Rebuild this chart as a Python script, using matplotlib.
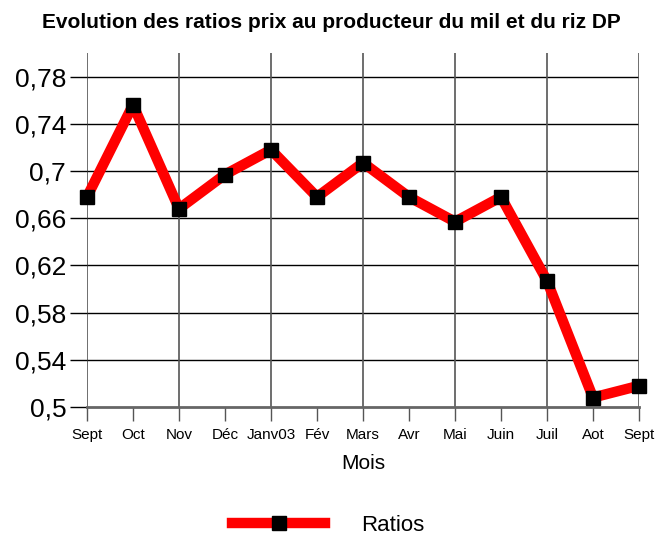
import matplotlib.pyplot as plt
from matplotlib.ticker import FixedLocator, FuncFormatter

plt.rcParams['font.family'] = ['Liberation Sans', 'DejaVu Sans']

# Data
mois = ['Sept', 'Oct', 'Nov', 'Déc', 'Janv03', 'Fév', 'Mars', 'Avr', 'Mai',
        'Juin', 'Juil', 'Aot', 'Sept']
ratios = [0.678, 0.756, 0.668, 0.697, 0.718, 0.678, 0.707, 0.678, 0.657,
          0.678, 0.607, 0.508, 0.518]
yticks = [0.5, 0.54, 0.58, 0.62, 0.66, 0.7, 0.74, 0.78]

x = list(range(len(mois)))

fig = plt.figure(figsize=(6.56, 5.4), dpi=100)
ax = fig.add_axes([87 / 656, 1 - 407 / 540, (639 - 87) / 656, (407 - 53) / 540])

# grid: horizontal lines at y ticks, vertical lines every other month
for y in yticks[1:]:
    ax.axhline(y, color='black', lw=1, zorder=1)
for xi in x[::2]:
    ax.axvline(xi, color='#555555', lw=1.2, zorder=1)

line, = ax.plot(x, ratios, color='#ff0000', lw=7.5, solid_joinstyle='round',
                marker='s', markersize=10.5, markerfacecolor='black',
                markeredgecolor='black', zorder=3, label='Ratios', clip_on=False)

ax.set_xlim(0, len(mois) - 1)
ax.set_ylim(0.5, 0.8)
ax.yaxis.set_major_locator(FixedLocator(yticks))
ax.yaxis.set_major_formatter(FuncFormatter(lambda v, p: ('%g' % v).replace('.', ',')))
ax.set_xticks(x)
ax.set_xticklabels(mois, fontsize=11)
ax.tick_params(axis='y', labelsize=19, length=12, width=1, direction='out', pad=3)
ax.tick_params(axis='x', length=10, width=1, color='#555555', direction='out', pad=5)

for s in ['top', 'right', 'left']:
    ax.spines[s].set_visible(False)
ax.spines['bottom'].set_color('#666666')
ax.spines['bottom'].set_linewidth(2)

ax.set_xlabel('Mois', fontsize=15, labelpad=9)
fig.suptitle('Evolution des ratios prix au producteur du mil et du riz DP',
             fontsize=15, fontweight='bold', x=0.505, y=0.975)

leg = fig.legend(handles=[line], loc='lower center', bbox_to_anchor=(0.5, -0.03),
                 frameon=False, fontsize=16, handlelength=4.2, handletextpad=1.6)

fig.savefig('out.png', dpi=100)
